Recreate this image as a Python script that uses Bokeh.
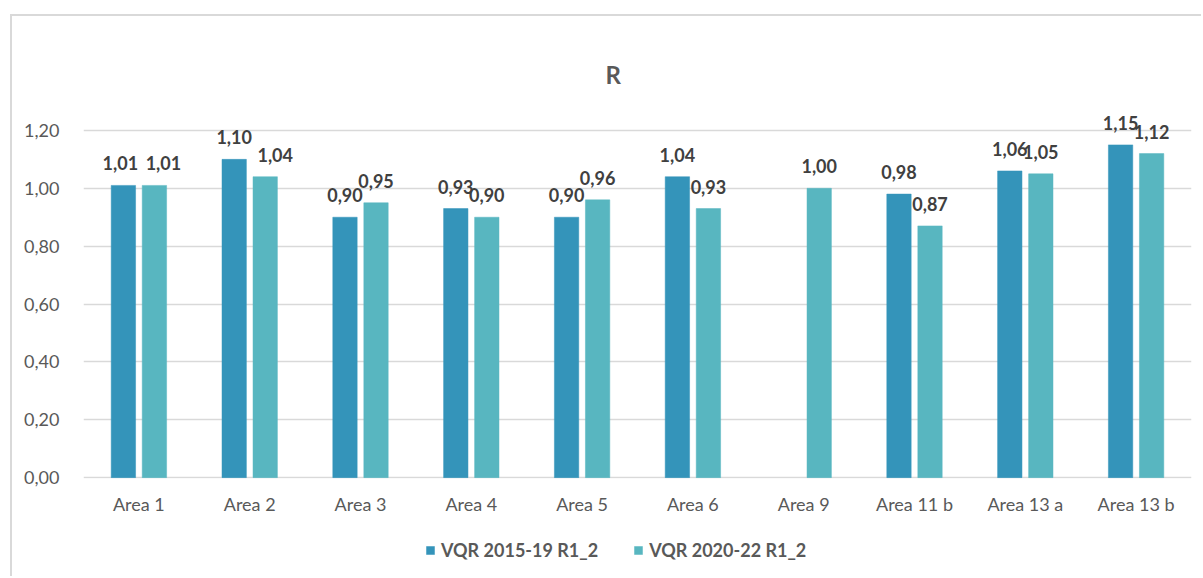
from bokeh.plotting import figure
from bokeh.layouts import column
from bokeh.models import (ColumnDataSource, FactorRange, LabelSet, Legend, LegendItem,
                          FixedTicker, CustomJSTickFormatter, Range1d)
from bokeh.core.properties import value
from bokeh.transform import dodge
from bokeh.embed import file_html
from bokeh.resources import INLINE

# ---- data ----
categories = ["Area 1", "Area 2", "Area 3", "Area 4", "Area 5", "Area 6",
              "Area 9", "Area 11 b", "Area 13 a", "Area 13 b"]
vqr_2015_19 = [1.01, 1.10, 0.90, 0.93, 0.90, 1.04, None, 0.98, 1.06, 1.15]
vqr_2020_22 = [1.01, 1.04, 0.95, 0.90, 0.96, 0.93, 1.00, 0.87, 1.05, 1.12]
series_names = ["VQR 2015-19 R1_2", "VQR 2020-22 R1_2"]
y_ticks = [0.0, 0.2, 0.4, 0.6, 0.8, 1.0, 1.2]
title_text = "R"

# ---- style ----
FONT = "Lato"
COLORS = ["#3494BA", "#58B6C0"]
OFFSETS = [-0.14, 0.14]
BAR_W = 0.22
# horizontal nudges of data labels (px) where the original moved them aside
LABEL_SHIFT = [{"Area 1": -3}, {"Area 1": 9, "Area 2": 10}]

p = figure(x_range=FactorRange(factors=categories, range_padding=0),
           y_range=Range1d(-0.003, 1.3),
           width=1189, height=510, output_backend="svg", toolbar_location=None,
           min_border_left=71, min_border_right=10, min_border_top=85, min_border_bottom=48)

p.title.text = title_text
p.title.align = "left"
p.title.text_font = FONT
p.title.text_font_size = "24px"
p.title.text_font_style = "bold"
p.title.text_color = "#595959"
p.title.standoff = 25
p.title.offset = 522

p.outline_line_color = None
p.background_fill_color = "white"
p.border_fill_color = "white"
p.xgrid.grid_line_color = None
p.ygrid.grid_line_color = "#d9d9d9"
p.ygrid.grid_line_width = 1.5

p.yaxis.ticker = FixedTicker(ticks=y_ticks)
p.yaxis.formatter = CustomJSTickFormatter(code="return tick.toFixed(2).replace('.', ',');")
for ax in (p.xaxis[0], p.yaxis[0]):
    ax.axis_line_color = None
    ax.major_tick_line_color = None
    ax.minor_tick_line_color = None
    ax.major_label_text_font = FONT
    ax.major_label_text_font_size = "18px"
    ax.major_label_text_color = "#595959"
p.xaxis.major_label_standoff = 8
p.yaxis.major_label_standoff = 18

# legend strip: a second figure sharing the x range; its bars lie outside its y range
p2 = figure(x_range=p.x_range, y_range=Range1d(5, 6), width=1189, height=50,
            output_backend="svg", toolbar_location=None,
            x_axis_location=None, y_axis_location=None,
            min_border_left=0, min_border_right=0, min_border_top=0, min_border_bottom=0)
p2.grid.grid_line_color = None
p2.outline_line_color = None
p2.background_fill_color = "white"
p2.border_fill_color = "white"

items = []
for name, vals, color, off, shift in zip(series_names, [vqr_2015_19, vqr_2020_22],
                                          COLORS, OFFSETS, LABEL_SHIFT):
    cats = [c for c, v in zip(categories, vals) if v is not None]
    vv = [v for v in vals if v is not None]
    src = ColumnDataSource(dict(cat=cats, val=vv,
                                lbl=[f"{v:.2f}".replace(".", ",") for v in vv],
                                dx=[shift.get(c, 0) for c in cats]))
    p.vbar(x=dodge("cat", off, range=p.x_range), top="val", bottom=0, width=BAR_W,
           source=src, fill_color=color, line_color=color, line_width=0.5)
    p.add_layout(LabelSet(x=dodge("cat", off, range=p.x_range), y="val", text="lbl",
                          source=src, text_align="center", text_baseline="alphabetic",
                          x_offset="dx", y_offset=15, text_font=value(FONT),
                          text_font_size="18px", text_font_style="bold",
                          text_color="#404040"))
    r2 = p2.vbar(x=dodge("cat", off, range=p2.x_range), top="val", bottom=0, width=BAR_W,
                 source=src, fill_color=color, line_color=color, line_width=0.5)
    items.append(LegendItem(label=name, renderers=[r2]))

legend = Legend(items=items, orientation="horizontal", location=(342, 15),
                padding=0, margin=0, spacing=35, label_standoff=6,
                glyph_width=10, glyph_height=10,
                label_text_font=FONT, label_text_font_size="18px",
                label_text_font_style="bold", label_text_color="#595959",
                border_line_color=None, background_fill_alpha=0)
p2.add_layout(legend, "center")

layout = column(p, p2, spacing=0)
layout.styles = {"margin-top": "14px", "margin-left": "10px",
                 "border-top": "2px solid #d9d9d9", "border-left": "2px solid #d9d9d9"}

open("out.html", "w").write(file_html(layout, INLINE))
